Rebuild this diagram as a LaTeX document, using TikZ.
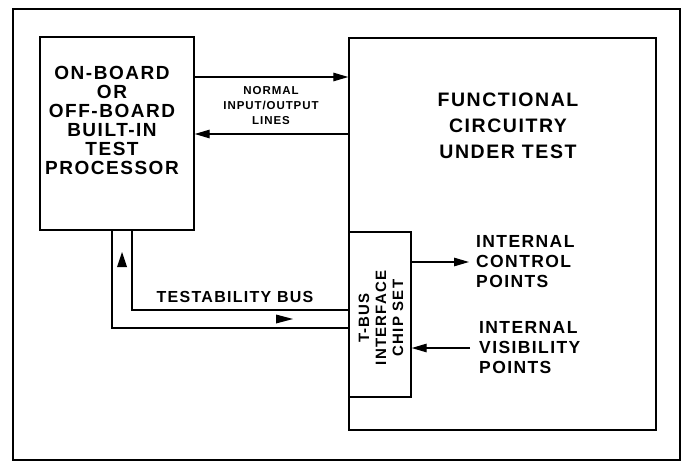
\documentclass[tikz,border=0pt]{standalone}
\usepackage{fontspec}
\setmainfont{Liberation Sans}
\newfontfamily\lbl[LetterSpace=8]{Liberation Sans}
\usetikzlibrary{calc,arrows.meta}
\tikzset{
  blk/.style={draw, line width=1.4pt, rectangle, inner sep=0pt},
  con/.style={line width=1.3pt},
  arr/.style={line width=1.3pt, -{Triangle[length=15pt,width=8.5pt]}},
  txt/.style={align=center, inner sep=0pt, font=\lbl\bfseries\fontsize{#1}{#1}\selectfont},
  ltxt/.style={align=left, inner sep=0pt, font=\lbl\bfseries\fontsize{17.5}{20}\selectfont},
}
\begin{document}
\begin{tikzpicture}[x=1pt,y=-1pt]
\useasboundingbox (0,0) rectangle (683,463);
% outer frame
\draw[line width=2pt] (13,9) rectangle (680,460);

% blocks
\node[blk, minimum width=154pt, minimum height=193pt] (lp) at (117,133.5) {};
\node[txt=19] (lpt) at (112,120) {ON-BOARD\\OR\\OFF-BOARD\\BUILT-IN\\TEST\\PROCESSOR};

\node[blk, minimum width=307pt, minimum height=392pt] (fc) at (502.5,234) {};
\node[txt=19.5, font=\lbl\bfseries\fontsize{19.5}{26}\selectfont] (fct) at (508,126) {FUNCTIONAL\\CIRCUITRY\\UNDER TEST};

\node[blk, minimum width=62pt, minimum height=165pt] (tb) at (380,314.5) {};
\node[txt=15, font=\lbl\bfseries\fontsize{15}{17}\selectfont, rotate=90] (tbt) at (381,318) {T-BUS\\INTERFACE\\CHIP SET};

% normal I/O lines
\coordinate (io1) at (0,77);
\coordinate (io2) at (0,134);
\draw[arr] (lp.east |- io1) -- (fc.west |- io1);
\draw[arr] (fc.west |- io2) -- (lp.east |- io2);
\node[txt=11.5, font=\lbl\bfseries\fontsize{11.5}{15}\selectfont] (iot) at (271,106) {NORMAL\\INPUT/OUTPUT\\LINES};

% testability bus
\coordinate (bi) at (132,310);
\coordinate (bo) at (112,328);
\draw[con] (lp.south -| bi) -- (bi) -- (tb.west |- bi);
\draw[con] (lp.south -| bo) -- (bo) -- (tb.west |- bo);
\fill (122,252) -- (117,267) -- (127,267) -- cycle;
\fill (293,319) -- (276,314.5) -- (276,323.5) -- cycle;
\node[txt=16, font=\lbl\bfseries\fontsize{16}{16}\selectfont] (tbus) at (235,297) {TESTABILITY BUS};

% internal points
\coordinate (ctl) at (469,262);
\coordinate (vis) at (470,348);
\draw[arr] (tb.east |- ctl) -- (ctl);
\draw[arr] (vis) -- (tb.east |- vis);
\node[ltxt, anchor=west] (ctlt) at (476,262) {INTERNAL\\CONTROL\\POINTS};
\node[ltxt, anchor=west] (vist) at (479,348) {INTERNAL\\VISIBILITY\\POINTS};
\end{tikzpicture}
\end{document}
